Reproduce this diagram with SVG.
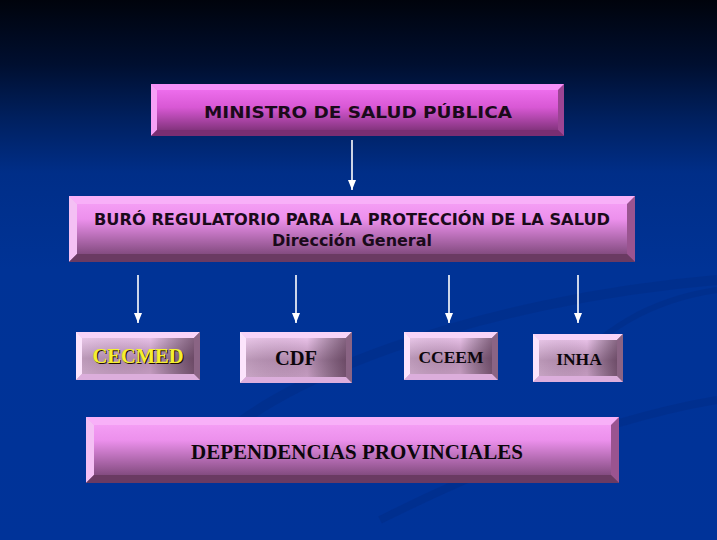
<svg xmlns="http://www.w3.org/2000/svg" width="717" height="540" viewBox="0 0 717 540">
<defs>
<linearGradient id="bg" x1="0" y1="0" x2="0" y2="1">
<stop offset="0" stop-color="#00030c"/>
<stop offset="0.12" stop-color="#000f30"/>
<stop offset="0.22" stop-color="#00205f"/>
<stop offset="0.32" stop-color="#002e88"/>
<stop offset="0.5" stop-color="#003396"/>
<stop offset="1" stop-color="#003399"/>
</linearGradient>
<linearGradient id="gMag" x1="0" y1="0" x2="0" y2="1">
<stop offset="0" stop-color="#f474f4"/>
<stop offset="0.45" stop-color="#d858d4"/>
<stop offset="1" stop-color="#6e2a68"/>
</linearGradient>
<linearGradient id="gPink" x1="0" y1="0" x2="0" y2="1">
<stop offset="0" stop-color="#f8a4f8"/>
<stop offset="0.35" stop-color="#ec90ec"/>
<stop offset="1" stop-color="#6c3c68"/>
</linearGradient>
<linearGradient id="gSmall" x1="0" y1="0" x2="0" y2="1">
<stop offset="0" stop-color="#f6cff6"/>
<stop offset="0.55" stop-color="#b48cb0"/>
<stop offset="1" stop-color="#c8a0c4"/>
</linearGradient>
<linearGradient id="gShade" x1="0" y1="0" x2="1" y2="0">
<stop offset="0" stop-color="#fff" stop-opacity="0.15"/>
<stop offset="0.6" stop-color="#000" stop-opacity="0"/>
<stop offset="1" stop-color="#301028" stop-opacity="0.6"/>
</linearGradient>
<marker id="ah" viewBox="0 0 10 8" refX="10" refY="4" markerWidth="10" markerHeight="8" markerUnits="userSpaceOnUse" orient="auto">
<path d="M0,0 L10,4 L0,8 Z" fill="#ffffff"/>
</marker>
</defs>
<style>
.sans{font-family:"DejaVu Sans","Verdana",sans-serif;font-weight:bold;fill:#1a0a1a;text-anchor:middle}
.serif{font-family:"Liberation Serif","Times New Roman",serif;font-weight:bold;fill:#0c060c;text-anchor:middle}
.conn line{stroke:#ffffff;stroke-width:1.6;marker-end:url(#ah)}
</style>
<rect width="717" height="540" fill="url(#bg)"/>
<g fill="none" stroke="#00287a" stroke-opacity="0.3">
<path d="M200,460 C260,380 480,300 717,280" stroke-width="10"/>
<path d="M380,520 C480,470 600,420 717,400" stroke-width="8"/>
<path d="M560,380 C600,330 650,300 717,290" stroke-width="6"/>
</g>

<g id="ministro">
<rect x="151" y="84" width="413" height="52" fill="url(#gMag)"/>
<polygon points="151,84 564,84 558,90 157,90" fill="#f690f8"/>
<polygon points="151,84 157,90 157,130 151,136" fill="#f6a0f6"/>
<polygon points="564,84 564,136 558,130 558,90" fill="#9c4494"/>
<polygon points="151,136 564,136 558,130 157,130" fill="#7a2e72"/>
<text class="sans" x="358" y="118" font-size="16.5" textLength="308" lengthAdjust="spacingAndGlyphs">MINISTRO DE SALUD PÚBLICA</text>
</g>

<g id="buro">
<rect x="69" y="196" width="566" height="66" fill="url(#gPink)"/>
<polygon points="69,196 635,196 627,204 77,204" fill="#f8b0f8"/>
<polygon points="69,196 77,204 77,254 69,262" fill="#f4c0f4"/>
<polygon points="635,196 635,262 627,254 627,204" fill="#9a5490"/>
<polygon points="69,262 635,262 627,254 77,254" fill="#6a3a62"/>
<text class="sans" x="352" y="225" font-size="15.5" textLength="516" lengthAdjust="spacingAndGlyphs">BURÓ REGULATORIO PARA LA PROTECCIÓN DE LA SALUD</text>
<text class="sans" x="352" y="246" font-size="15.5" textLength="160" lengthAdjust="spacingAndGlyphs">Dirección General</text>
</g>

<g id="cecmed">
<rect x="76" y="332" width="124" height="48" fill="url(#gSmall)"/>
<rect x="76" y="332" width="124" height="48" fill="url(#gShade)"/>
<polygon points="76,332 200,332 194,338 82,338" fill="#f8d4f8"/>
<polygon points="76,332 82,338 82,374 76,380" fill="#fce4fc"/>
<polygon points="200,332 200,380 194,374 194,338" fill="#8a6484"/>
<polygon points="76,380 200,380 194,374 82,374" fill="#dcaedc"/>
<text class="serif" x="139" y="364" font-size="20.5" style="fill:#201000">CECMED</text>
<text class="serif" x="138" y="363" font-size="20.5" style="fill:#f4f030">CECMED</text>
</g>

<g id="cdf">
<rect x="240" y="332" width="112" height="51" fill="url(#gSmall)"/>
<rect x="240" y="332" width="112" height="51" fill="url(#gShade)"/>
<polygon points="240,332 352,332 346,338 246,338" fill="#f8d4f8"/>
<polygon points="240,332 246,338 246,377 240,383" fill="#fce4fc"/>
<polygon points="352,332 352,383 346,377 346,338" fill="#8a6484"/>
<polygon points="240,383 352,383 346,377 246,377" fill="#dcaedc"/>
<text class="serif" x="296" y="365" font-size="20.5">CDF</text>
</g>

<g id="cceem">
<rect x="404" y="332" width="94" height="48" fill="url(#gSmall)"/>
<rect x="404" y="332" width="94" height="48" fill="url(#gShade)"/>
<polygon points="404,332 498,332 492,338 410,338" fill="#f8d4f8"/>
<polygon points="404,332 410,338 410,374 404,380" fill="#fce4fc"/>
<polygon points="498,332 498,380 492,374 492,338" fill="#8a6484"/>
<polygon points="404,380 498,380 492,374 410,374" fill="#dcaedc"/>
<text class="serif" x="451" y="363" font-size="17.5">CCEEM</text>
</g>

<g id="inha">
<rect x="533" y="334" width="90" height="48" fill="url(#gSmall)"/>
<rect x="533" y="334" width="90" height="48" fill="url(#gShade)"/>
<polygon points="533,334 623,334 617,340 539,340" fill="#f8d4f8"/>
<polygon points="533,334 539,340 539,376 533,382" fill="#fce4fc"/>
<polygon points="623,334 623,382 617,376 617,340" fill="#8a6484"/>
<polygon points="533,382 623,382 617,376 539,376" fill="#dcaedc"/>
<text class="serif" x="579" y="365" font-size="17.5">INHA</text>
</g>

<g id="dependencias">
<rect x="86" y="417" width="533" height="66" fill="url(#gPink)"/>
<polygon points="86,417 619,417 611,425 94,425" fill="#f8b0f8"/>
<polygon points="86,417 94,425 94,475 86,483" fill="#f4c0f4"/>
<polygon points="619,417 619,483 611,475 611,425" fill="#9a5490"/>
<polygon points="86,483 619,483 611,475 94,475" fill="#6a3a62"/>
<text class="serif" x="357" y="459" font-size="21" textLength="332" lengthAdjust="spacingAndGlyphs">DEPENDENCIAS PROVINCIALES</text>
</g>

<g id="connectors" class="conn">
<line x1="352" y1="140" x2="352" y2="190"/>
<line x1="138" y1="275" x2="138" y2="323"/>
<line x1="296" y1="275" x2="296" y2="323"/>
<line x1="449" y1="275" x2="449" y2="323"/>
<line x1="578" y1="275" x2="578" y2="323"/>
</g>
</svg>
